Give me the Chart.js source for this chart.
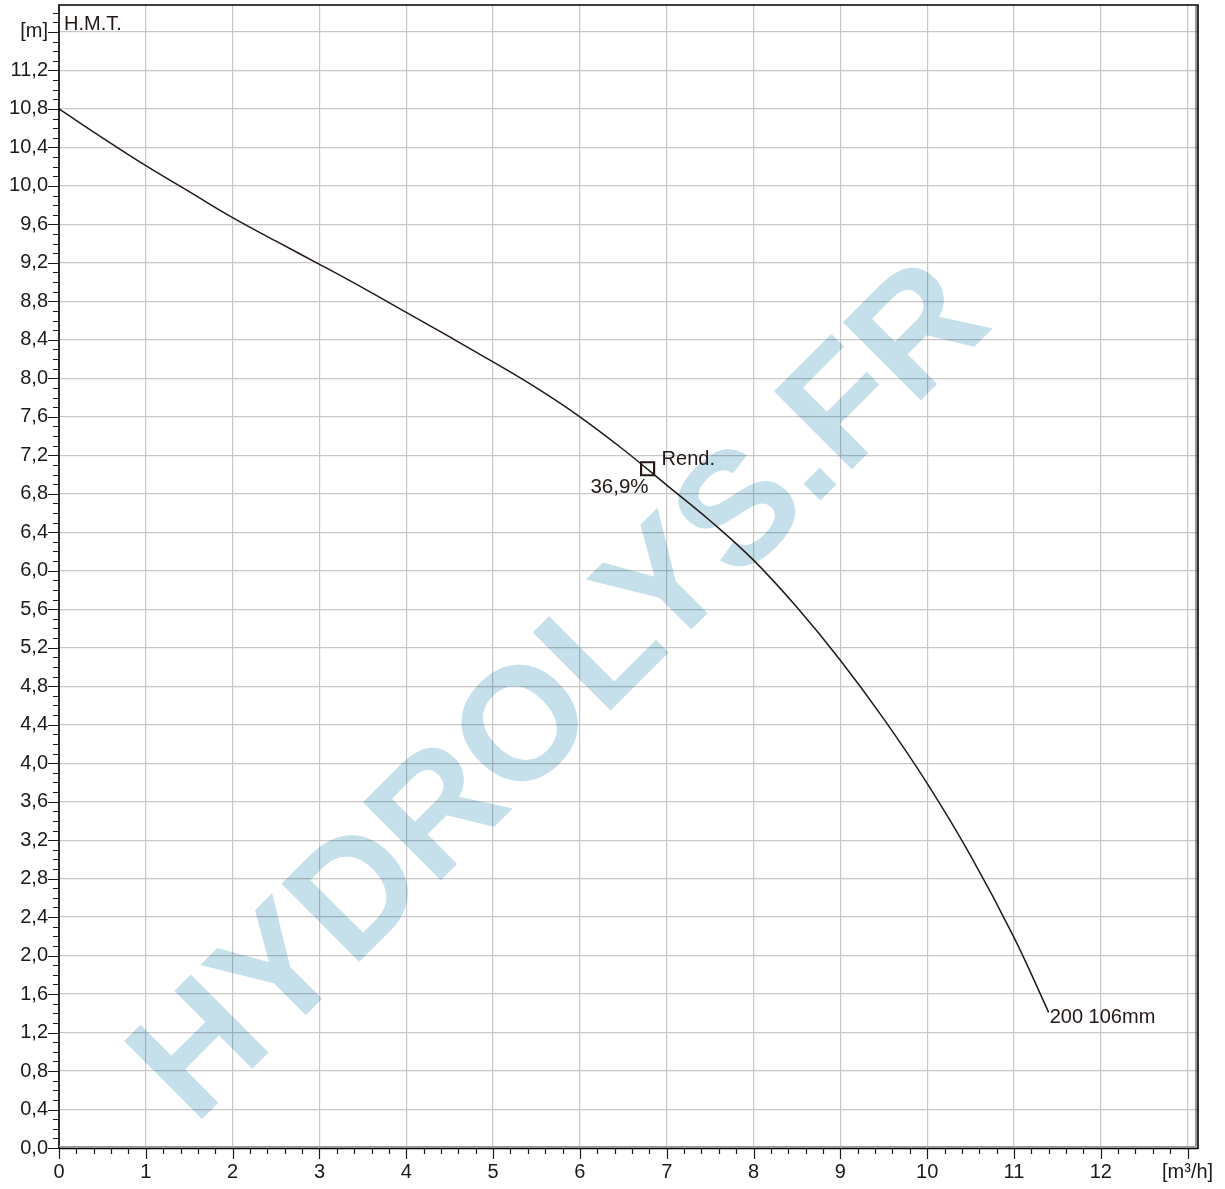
<!DOCTYPE html>
<html>
<head>
<meta charset="utf-8">
<script src="https://cdn.jsdelivr.net/npm/chart.js@4.4.0/dist/chart.umd.min.js"></script>
<style>
html,body{margin:0;padding:0;background:#fff;}
canvas{display:block;}
</style>
</head>
<body>
<canvas id="c" width="1225" height="1189"></canvas>
<script>
// ---- data ----
const flowRate = [0, 0.5, 1, 1.5, 2, 2.5, 3, 3.5, 4, 4.5, 5, 5.5, 6, 6.5, 7, 7.5, 8, 8.5, 9, 9.5, 10, 10.5, 11, 11.4];
const head     = [10.8, 10.50, 10.21, 9.94, 9.67, 9.425, 9.185, 8.94, 8.685, 8.43, 8.17, 7.9, 7.6, 7.26, 6.89, 6.52, 6.11, 5.62, 5.07, 4.46, 3.79, 3.04, 2.19, 1.41];
const bepFlow = [6.78];
const bepHead = [7.06];
const curveLabel = '200 106mm';
const bepLabel = 'Rend.';
const bepValue = '36,9%';
const yAxisTitle = 'H.M.T.';
const watermarkText = 'HYDROLYS.FR';
const xTickLabels = ['0','1','2','3','4','5','6','7','8','9','10','11','12','[m³/h]'];
const yTickLabels = ['0,0','0,4','0,8','1,2','1,6','2,0','2,4','2,8','3,2','3,6','4,0','4,4','4,8','5,2','5,6','6,0','6,4','6,8','7,2','7,6','8,0','8,4','8,8','9,2','9,6','10,0','10,4','10,8','11,2','[m]'];

const X_MAX = 13.12, Y_MAX = 11.88;
const X_STEP = 0.2, X_MAJOR = 1, Y_STEP = 0.1, Y_MAJOR = 0.4;

function isMult(v, step){ const k = v/step; return Math.abs(k - Math.round(k)) < 1e-6; }
function tickList(step, maxV){ const out=[]; const n = Math.floor(maxV/step + 1e-9); for(let i=0;i<=n;i++) out.push(+(i*step).toFixed(3)); return out; }

const FONT = '"Liberation Sans", Arial, Helvetica, sans-serif';
const INK = '#231815';
const GRID = '#c8c8c8';

const watermarkPlugin = {
  id: 'watermark',
  beforeDatasetsDraw(chart){
    const {ctx, chartArea: ca} = chart;
    ctx.save();
    ctx.beginPath(); ctx.rect(ca.left, ca.top, ca.right-ca.left, ca.bottom-ca.top); ctx.clip();
    ctx.globalCompositeOperation = 'multiply';
    ctx.translate(ca.left + 135.5, ca.top + 1121.5);
    ctx.rotate(-Math.PI/4);
    ctx.font = 'bold 160px ' + FONT;
    ctx.fillStyle = '#c6e0eb';
    ctx.textAlign = 'left';
    ctx.textBaseline = 'alphabetic';
    ctx.fillText(watermarkText, 0, 0);
    ctx.restore();
  }
};

const annotPlugin = {
  id: 'annot',
  afterDatasetsDraw(chart){
    const {ctx, chartArea: ca, scales:{x, y}} = chart;
    ctx.save();
    ctx.fillStyle = INK;
    ctx.font = '20px ' + FONT;
    ctx.textBaseline = 'alphabetic';
    ctx.textAlign = 'left';
    ctx.fillText(yAxisTitle, ca.left + 5, ca.top + 25);
    const bx = x.getPixelForValue(bepFlow[0]), by = y.getPixelForValue(bepHead[0]);
    ctx.fillText(bepLabel, bx + 14, by - 4);
    ctx.textAlign = 'right';
    ctx.font = '20.5px ' + FONT;
    ctx.fillText(bepValue, bx + 1, by + 24);
    const ex = x.getPixelForValue(flowRate[flowRate.length-1]), ey = y.getPixelForValue(head[head.length-1]);
    ctx.textAlign = 'left';
    ctx.font = '20px ' + FONT;
    ctx.fillText(curveLabel, ex + 1, ey + 11);
    ctx.restore();
  },
  afterDraw(chart){
    const {ctx, chartArea: ca, scales:{x, y}} = chart;
    ctx.save();
    // tick marks
    ctx.strokeStyle = '#1a1a1a';
    ctx.lineWidth = 1.2;
    ctx.beginPath();
    x.ticks.forEach(t => {
      const px = Math.round(x.getPixelForValue(t.value)) + 0.5;
      const len = isMult(t.value, X_MAJOR) ? 11 : 6;
      ctx.moveTo(px, ca.bottom); ctx.lineTo(px, ca.bottom + len);
    });
    y.ticks.forEach(t => {
      const py = Math.round(y.getPixelForValue(t.value)) + 0.5;
      const len = isMult(t.value, Y_MAJOR) ? 11 : 6;
      ctx.moveTo(ca.left, py); ctx.lineTo(ca.left - len, py);
    });
    ctx.stroke();
    // frame
    ctx.strokeStyle = '#000';
    ctx.lineWidth = 1.6;
    ctx.beginPath();
    ctx.moveTo(ca.left, ca.bottom + 1); ctx.lineTo(ca.left, ca.top);
    ctx.lineTo(ca.right, ca.top); ctx.lineTo(ca.right, ca.bottom + 1);
    ctx.moveTo(ca.left, ca.bottom + 0.5); ctx.lineTo(ca.right, ca.bottom + 0.5);
    ctx.stroke();
    ctx.lineWidth = 1;
    ctx.strokeStyle = '#333';
    ctx.beginPath();
    ctx.moveTo(ca.right - 2, ca.top); ctx.lineTo(ca.right - 2, ca.bottom - 1.5);
    ctx.stroke();
    ctx.strokeStyle = '#999';
    ctx.beginPath();
    ctx.moveTo(ca.left, ca.bottom - 1.5); ctx.lineTo(ca.right - 2, ca.bottom - 1.5);
    ctx.stroke();
    ctx.restore();
  }
};

const curvePoints = flowRate.map((q, i) => ({x: q, y: head[i]}));
const bepPoints = bepFlow.map((q, i) => ({x: q, y: bepHead[i]}));

new Chart(document.getElementById('c'), {
  type: 'line',
  data: {
    datasets: [
      {
        data: curvePoints,
        borderColor: INK,
        borderWidth: 1.5,
        pointRadius: 0,
        tension: 0.4,
        fill: false
      },
      {
        data: bepPoints,
        showLine: false,
        pointStyle: 'rect',
        pointRadius: 9.2,
        borderWidth: 2.2,
        borderColor: INK,
        backgroundColor: '#ffffff'
      }
    ]
  },
  options: {
    responsive: false,
    animation: false,
    events: [],
    layout: { autoPadding: false, padding: { top: 5, right: 27, left: 0, bottom: 0 } },
    plugins: { legend: { display: false }, tooltip: { enabled: false } },
    scales: {
      x: {
        type: 'linear',
        min: 0, max: X_MAX,
        afterBuildTicks: s => { s.ticks = tickList(X_STEP, 13).map(v => ({value: v})); },
        afterFit: s => { s.height = 41; s.paddingLeft = 0; s.paddingRight = 0; s.paddingTop = 0; s.paddingBottom = 0; },
        border: { display: false },
        grid: {
          drawTicks: false,
          lineWidth: 1.2,
          color: c => (c.tick && isMult(c.tick.value, X_MAJOR)) ? GRID : 'rgba(0,0,0,0)'
        },
        ticks: {
          autoSkip: false,
          maxRotation: 0,
          padding: 12,
          color: '#1a1a1a',
          font: { family: FONT, size: 20 },
          callback: v => isMult(v, X_MAJOR) ? (xTickLabels[Math.round(v)] ?? '') : ''
        }
      },
      y: {
        type: 'linear',
        min: 0, max: Y_MAX,
        afterBuildTicks: s => { s.ticks = tickList(Y_STEP, 11.8).map(v => ({value: v})); },
        afterFit: s => { s.width = 59; s.paddingLeft = 0; s.paddingRight = 0; s.paddingTop = 0; s.paddingBottom = 0; },
        border: { display: false },
        grid: {
          drawTicks: false,
          lineWidth: 1.2,
          color: c => (c.tick && isMult(c.tick.value, Y_MAJOR)) ? GRID : 'rgba(0,0,0,0)'
        },
        ticks: {
          autoSkip: false,
          padding: 11,
          color: '#1a1a1a',
          font: { family: FONT, size: 20 },
          callback: v => isMult(v, Y_MAJOR) ? (yTickLabels[Math.round(v / Y_MAJOR)] ?? '') : ''
        }
      }
    }
  },
  plugins: [watermarkPlugin, annotPlugin]
});
</script>
</body>
</html>
